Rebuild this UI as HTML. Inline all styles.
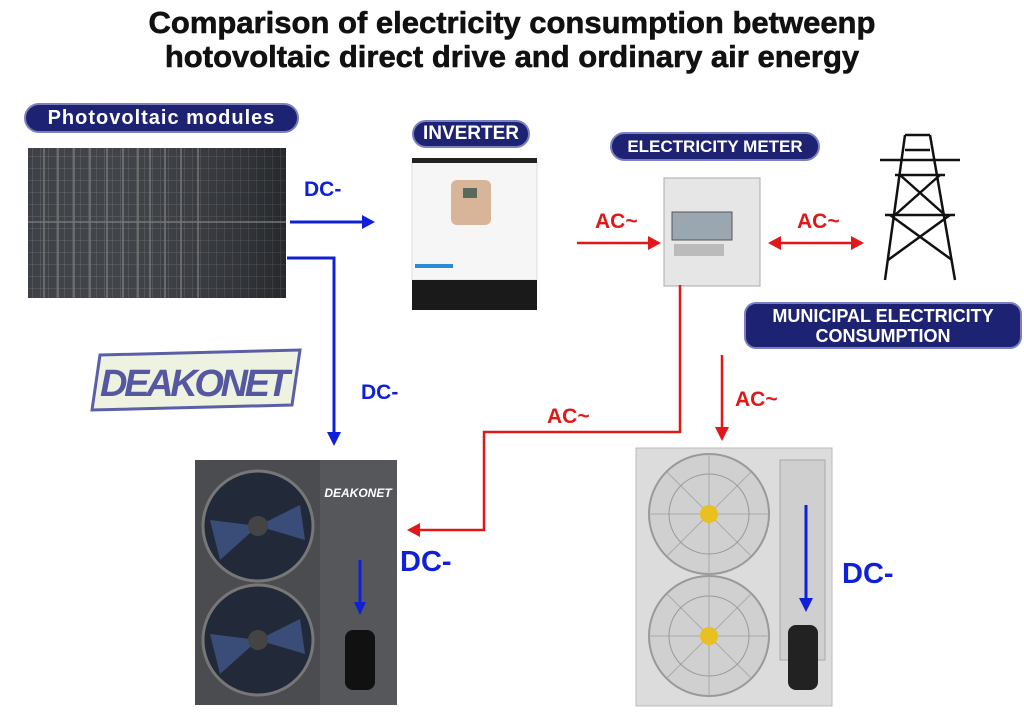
<!DOCTYPE html>
<html><head><meta charset="utf-8"><style>
body{margin:0;width:1024px;height:724px;background:#fff;position:relative;overflow:hidden;font-family:"Liberation Sans",sans-serif}
.t{position:absolute;left:0;width:1024px;text-align:center;font-weight:bold;font-size:31px;color:#111;line-height:34px;-webkit-text-stroke:0.6px #111}
.pill{position:absolute;background:#1d2272;color:#fff;font-weight:bold;border-radius:16px;text-align:center;border:2px solid #7a80c0;box-sizing:border-box}
.lbl{position:absolute;font-weight:bold;font-size:21px}
.b{color:#1020d8}.r{color:#e01818}
</style></head><body>
<div class="t" style="top:6px">Comparison of electricity consumption betweenp</div>
<div class="t" style="top:40px">hotovoltaic direct drive and ordinary air energy</div>
<div class="pill" style="left:24px;top:103px;width:275px;height:30px;font-size:20px;line-height:26px;letter-spacing:1px">Photovoltaic modules</div>
<div class="pill" style="left:412px;top:120px;width:118px;height:28px;font-size:19px;line-height:24px">INVERTER</div>
<div class="pill" style="left:610px;top:132px;width:210px;height:29px;font-size:17px;line-height:25px">ELECTRICITY METER</div>
<div class="pill" style="left:744px;top:302px;width:278px;height:47px;font-size:18px;line-height:20px;padding-top:2px;border-radius:12px">MUNICIPAL ELECTRICITY<br>CONSUMPTION</div>
<svg width="1024" height="724" style="position:absolute;left:0;top:0">
<defs>
<pattern id="pv" width="8" height="12" patternUnits="userSpaceOnUse"><rect width="8" height="12" fill="#33363b"/><path d="M0 0H8M0 0V12" stroke="#5c6066" stroke-width="1"/></pattern>
<linearGradient id="sh" x1="0" y1="0" x2="1" y2="0"><stop offset="0" stop-color="#fff" stop-opacity="0.05"/><stop offset="1" stop-color="#000" stop-opacity="0.25"/></linearGradient>
</defs>
<rect x="28" y="148" width="258" height="150" fill="url(#pv)"/>
<rect x="28" y="148" width="258" height="150" fill="url(#sh)"/>
<g stroke="#777" stroke-width="1.5">
<line x1="44" y1="148" x2="44" y2="298"/><line x1="58" y1="148" x2="58" y2="298"/><line x1="74" y1="148" x2="74" y2="298"/><line x1="90" y1="148" x2="90" y2="298"/><line x1="107" y1="148" x2="107" y2="298"/><line x1="123" y1="148" x2="123" y2="298"/><line x1="138" y1="148" x2="138" y2="298"/><line x1="150" y1="148" x2="150" y2="298"/><line x1="165" y1="148" x2="165" y2="298"/><line x1="181" y1="148" x2="181" y2="298"/><line x1="198" y1="148" x2="198" y2="298"/>
<line x1="28" y1="222" x2="286" y2="222"/>
</g>
<!-- inverter -->
<rect x="412" y="162" width="125" height="118" fill="#f6f6f6" stroke="#ddd"/>
<rect x="412" y="158" width="125" height="5" fill="#222"/>
<rect x="412" y="280" width="125" height="30" fill="#1a1a1a"/>
<rect x="451" y="180" width="40" height="45" rx="6" fill="#d8b498"/>
<rect x="463" y="188" width="14" height="10" fill="#5a6a5a"/>
<rect x="415" y="264" width="38" height="4" fill="#2a8ad8"/>
<!-- meter -->
<rect x="664" y="178" width="96" height="108" fill="#e6e6e6" stroke="#aaa"/>
<rect x="672" y="212" width="60" height="28" fill="#9aa6b0" stroke="#555"/>
<rect x="674" y="244" width="50" height="12" fill="#bbb"/>
<!-- tower -->
<g stroke="#111" stroke-width="2.5" fill="none">
<path d="M905 135 L885 280 M930 135 L955 280 M905 135 L930 135 M895 175 L945 175 M880 160 L960 160 M885 215 L955 215 M905 150 L930 150"/>
<path d="M900 175 L945 215 M940 175 L895 215 M890 215 L952 260 M950 215 L888 260"/>
</g>
<!-- logo -->
<path d="M100 355 L300 350 L292 405 L92 410 Z" fill="#eef2e0" stroke="#5a5fa8" stroke-width="3"/>
<text x="195" y="396" font-family="Liberation Sans" font-weight="bold" font-style="italic" font-size="38" fill="#5558a0" text-anchor="middle" textLength="190">DEAKONET</text>
<!-- arrows blue -->
<g stroke="#1020d8" stroke-width="3" fill="#1020d8">
<line x1="290" y1="222" x2="365" y2="222"/><path d="M375 222 L362 215 L362 229Z" stroke="none"/>
<polyline points="287,258 334,258 334,435" fill="none"/><path d="M334 446 L327 432 L341 432Z" stroke="none"/>
</g>
<!-- red -->
<g stroke="#e01818" stroke-width="2.5" fill="#e01818">
<line x1="577" y1="243" x2="650" y2="243"/><path d="M661 243 L648 236 L648 250Z" stroke="none"/>
<line x1="780" y1="243" x2="853" y2="243"/><path d="M768 243 L781 236 L781 250Z" stroke="none"/><path d="M864 243 L851 236 L851 250Z" stroke="none"/>
<polyline points="680,285 680,432 484,432 484,530 420,530" fill="none"/><path d="M407 530 L420 523 L420 537Z" stroke="none"/>
<line x1="722" y1="355" x2="722" y2="428"/><path d="M722 441 L715 427 L729 427Z" stroke="none"/>
</g>
<!-- left heat pump -->
<rect x="195" y="460" width="202" height="245" fill="#4a4c50"/>
<rect x="320" y="460" width="77" height="245" fill="#55575b"/>
<circle cx="258" cy="526" r="55" fill="#222a3a" stroke="#777" stroke-width="3"/>
<circle cx="258" cy="640" r="55" fill="#222a3a" stroke="#777" stroke-width="3"/>
<g fill="#3a4c78"><path d="M258 526 L300 505 L305 540Z"/><path d="M258 526 L220 560 L210 520Z"/><path d="M258 640 L300 619 L305 654Z"/><path d="M258 640 L220 674 L210 634Z"/></g>
<circle cx="258" cy="526" r="10" fill="#444"/><circle cx="258" cy="640" r="10" fill="#444"/>
<rect x="345" y="630" width="30" height="60" rx="8" fill="#111"/>
<text x="358" y="497" font-family="Liberation Sans" font-weight="bold" font-style="italic" font-size="12" fill="#fff" text-anchor="middle">DEAKONET</text>
<line x1="360" y1="560" x2="360" y2="605" stroke="#1020d8" stroke-width="3"/><path d="M360 615 L354 602 L366 602Z" fill="#1020d8"/>
<!-- right unit -->
<rect x="636" y="448" width="196" height="258" fill="#dcdcdc" stroke="#bbb"/>
<rect x="780" y="460" width="45" height="200" fill="#cfcfcf" stroke="#aaa"/>
<circle cx="709" cy="514" r="60" fill="#d0d0d0" stroke="#999" stroke-width="2"/>
<circle cx="709" cy="636" r="60" fill="#d0d0d0" stroke="#999" stroke-width="2"/>
<g stroke="#aaa" stroke-width="1"><path d="M649 514H769M709 454V574M667 472L751 556M751 472L667 556"/><path d="M649 636H769M709 576V696M667 594L751 678M751 594L667 678"/></g>
<circle cx="709" cy="514" r="40" fill="none" stroke="#999"/><circle cx="709" cy="636" r="40" fill="none" stroke="#999"/>
<circle cx="709" cy="514" r="9" fill="#e8c020"/><circle cx="709" cy="636" r="9" fill="#e8c020"/>
<rect x="788" y="625" width="30" height="65" rx="8" fill="#222"/>
<line x1="806" y1="505" x2="806" y2="600" stroke="#1020d8" stroke-width="3"/><path d="M806 612 L799 598 L813 598Z" fill="#1020d8"/>
</svg>
<div class="lbl b" style="left:304px;top:178px">DC-</div>
<div class="lbl b" style="left:361px;top:381px">DC-</div>
<div class="lbl r" style="left:595px;top:210px">AC~</div>
<div class="lbl r" style="left:797px;top:210px">AC~</div>
<div class="lbl r" style="left:547px;top:405px">AC~</div>
<div class="lbl r" style="left:735px;top:388px">AC~</div>
<div class="lbl b" style="left:400px;top:546px;font-size:29px">DC-</div>
<div class="lbl b" style="left:842px;top:558px;font-size:29px">DC-</div>
</body></html>
